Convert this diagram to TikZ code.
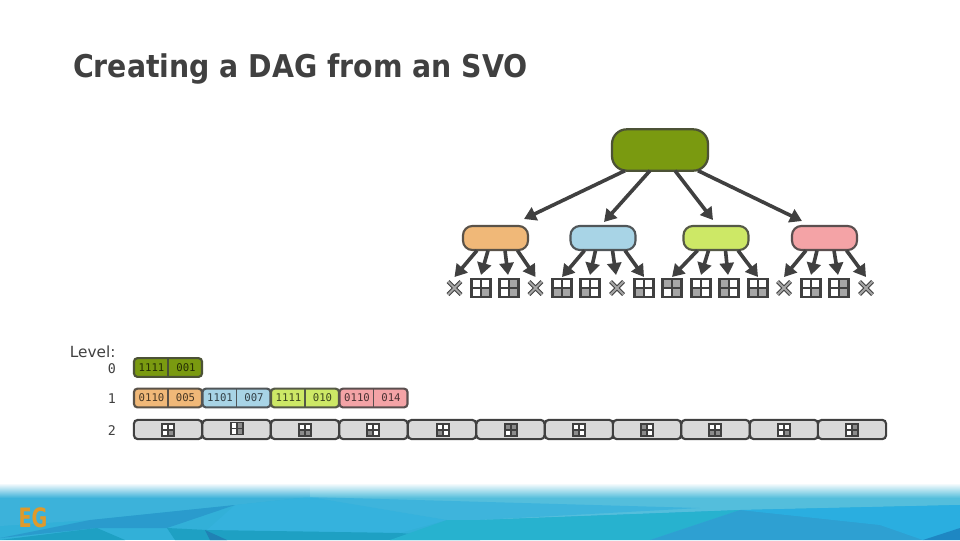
\documentclass[tikz,border=0pt]{standalone}
\usepackage{graphicx}
\usepackage{fontspec}
\setmainfont{DejaVu Sans}
\newfontfamily\titlefont[FakeStretch=0.905]{DejaVu Sans Bold}
\newfontfamily\cellfont{DejaVu Sans Mono}
\usetikzlibrary{arrows.meta,calc}
\definecolor{ink}{HTML}{404040}
\definecolor{rootc}{HTML}{7A9A10}
\definecolor{orangec}{HTML}{F0B878}
\definecolor{bluec}{HTML}{A8D4E6}
\definecolor{greenc}{HTML}{CDE866}
\definecolor{pinkc}{HTML}{F4A3A6}
\definecolor{cellg}{HTML}{A6A6A6}
\definecolor{iconG}{HTML}{8C8C8C}
\definecolor{barg}{HTML}{D9D9D9}
\definecolor{fa}{HTML}{32B0D8}
\definecolor{fb}{HTML}{3CB2DA}
\definecolor{fc}{HTML}{54BEDC}
\definecolor{fd}{HTML}{3EB4DC}
\definecolor{fe}{HTML}{35B2DD}
\definecolor{ff}{HTML}{2A9BCD}
\definecolor{fg}{HTML}{1EA0C3}
\definecolor{fh}{HTML}{2082B4}
\definecolor{fi}{HTML}{27B2CF}
\definecolor{fj}{HTML}{2EA0D2}
\definecolor{fk}{HTML}{2AAEE0}
\definecolor{fl}{HTML}{1E87C3}
\definecolor{logoc}{HTML}{DE9A2C}
\tikzset{
  x=0.75pt,y=-0.75pt,
  every node/.style={inner sep=0pt,outer sep=0pt},
  arr/.style={draw=ink,line width=2.7pt,-{Triangle[length=9pt,width=10.5pt]},shorten >=0pt},
  parent/.style={rounded corners=7pt,line width=1.6pt,minimum width=48.75pt,minimum height=18pt},
  rootbox/.style={rounded corners=11pt,line width=1.7pt,draw=ink!80!rootc,fill=rootc,minimum width=72pt,minimum height=31pt},
  gridcell/.style={minimum width=14.5pt,minimum height=13.5pt,draw=none},
  pairbox/.style={rounded corners=2.5pt,line width=1.6pt,minimum width=51pt,minimum height=14pt},
  barbox/.style={rounded corners=3pt,line width=1.6pt,draw=ink,fill=barg,minimum width=51.2pt,minimum height=14.5pt},
  celltxt/.style={font=\cellfont\fontsize{8}{9}\selectfont},
  lvl/.style={font=\cellfont\fontsize{10}{12}\selectfont,text=ink,anchor=base east},
}
\begin{document}
\begin{tikzpicture}
\useasboundingbox (0,0) rectangle (960,540);
% footer band
\fill[white] (0,0) rectangle (960,540);
\fill[fa] (0,484) rectangle (960,540);
\fill[fb] (0,484) -- (310,484) -- (310,497) -- (235,505) -- (90,520) -- (0,526) -- cycle;
\fill[fc] (310,484) -- (960,484) -- (960,505) -- (740,510) -- (480,520) -- (447,520) -- (310,497) -- cycle;
\fill[fd] (310,497) -- (700,508) -- (480,520) -- (447,520) -- cycle;
\fill[fe] (235,505) -- (207,530) -- (400,533) -- (447,520) -- (310,497) -- cycle;
\fill[ff] (0,538) -- (90,520) -- (235,505) -- (167,528) -- (97,528) -- cycle;
\fill[fg] (0,540) -- (97,528) -- (125,540) -- cycle;
\fill[fg] (167,528) -- (207,530) -- (400,533) -- (480,540) -- (175,540) -- cycle;
\fill[fh] (205,530) -- (227,540) -- (210,540) -- cycle;
\fill[fi] (447,520) -- (480,520) -- (740,510) -- (650,540) -- (390,540) -- cycle;
\fill[fj] (740,510) -- (880,510) -- (923,540) -- (650,540) -- cycle;
\fill[fk] (740,510) -- (960,505) -- (960,530) -- (923,540) -- (880,525) -- cycle;
\fill[fl] (923,540) -- (960,528) -- (960,540) -- cycle;
\foreach \i in {0,...,13} {
  \pgfmathsetmacro{\op}{1-(\i+1)/15}
  \fill[white,opacity=\op] (0,{484+\i}) rectangle (960,{485+\i});
}
\node[font=\bfseries\fontsize{20}{22}\selectfont,text=logoc,anchor=center] (logo) at (33,518) {\scalebox{0.72}[1]{EG}};
% title
\node[anchor=base west,font=\titlefont\fontsize{23.5}{26}\selectfont,text=ink] (title) at (73,77) {Creating a DAG from an SVO};
% tree
\node[rootbox] (root) at (660,150) {};
\node[parent,draw=ink!85!orangec,fill=orangec] (na) at (495.5,238) {};
\node[parent,draw=ink!85!bluec,fill=bluec] (nb) at (603,238) {};
\node[parent,draw=ink!85!greenc,fill=greenc] (nc) at (716,238) {};
\node[parent,draw=ink!85!pinkc,fill=pinkc] (nd) at (824.5,238) {};
% leaf cells
\foreach \n/\x/\a/\b/\c/\d in {
  l2/481/white/white/white/cellg, l3/509/white/cellg/white/cellg,
  l5/562/white/white/cellg/cellg, l6/590/white/white/cellg/white,
  l8/644/white/white/cellg/white, l9/672/cellg/cellg/white/cellg,
  l10/701/white/white/cellg/white, l11/729/cellg/white/cellg/white,
  l12/758/white/white/cellg/cellg, l14/811/white/white/white/cellg,
  l15/839/white/cellg/white/cellg} {
  \node[gridcell] (\n) at (\x,288) {};
  \fill[\a] (\n.north west) rectangle (\n.center);
  \fill[\b] (\n.north east) rectangle (\n.center);
  \fill[\c] (\n.south west) rectangle (\n.center);
  \fill[\d] (\n.south east) rectangle (\n.center);
  \draw[ink,line width=1.9pt] (\n.north west) rectangle (\n.south east);
  \draw[ink,line width=1.3pt] (\n.north) -- (\n.south) (\n.west) -- (\n.east);
}
\foreach \n/\x in {l1/454.5,l4/535.5,l7/617,l13/784,l16/866} {
  \node[gridcell] (\n) at (\x,288) {};
  \draw[ink,line width=3pt] ($(\n)+(-6.5,-6.5)$) -- ($(\n)+(6.5,6.5)$) ($(\n)+(-6.5,6.5)$) -- ($(\n)+(6.5,-6.5)$);
  \draw[cellg,line width=1.5pt] ($(\n)+(-6.5,-6.5)$) -- ($(\n)+(6.5,6.5)$) ($(\n)+(-6.5,6.5)$) -- ($(\n)+(6.5,-6.5)$);
}
% root arrows
\draw[arr] ($(root.south)+(-35,0)$) -- ($(na.north)+(28.5,-7)$);
\draw[arr] ($(root.south)+(-10,0)$) -- ($(nb.north)+(1,-4)$);
\draw[arr] ($(root.south)+(15,0)$) -- ($(nc.north)+(-3,-6)$);
\draw[arr] ($(root.south)+(38,0)$) -- ($(nd.north)+(-22.5,-5)$);
% child arrows
\foreach \p/\t/\u/\v/\w in {
  na/l1/l2/l3/l4, nb/l5/l6/l7/l8, nc/l9/l10/l11/l12, nd/l13/l14/l15/l16} {
  \draw[arr] ($(\p.south)+(-18.5,0.5)$) -- ($(\t.north)+(0,-2)$);
  \draw[arr] ($(\p.south)+(-7.5,0.5)$) -- ($(\u.north)+(0,-4)$);
  \draw[arr] ($(\p.south)+(9.5,0.5)$) -- ($(\v.north)+(-1,-4)$);
  \draw[arr] ($(\p.south)+(22,0.5)$) -- ($(\w.north)+(0,-2)$);
}
% level labels
\node[anchor=base east,font=\fontsize{11.5}{13}\selectfont,text=ink] (lv) at (115.5,357) {Level:};
\node[lvl] (l0) at (116,373.5) {0};
\node[lvl] (l1t) at (116,403.5) {1};
\node[lvl] (l2t) at (116,435) {2};
% level 0
\node[pairbox,draw=ink!80!rootc,fill=rootc] (p0) at (168,367.5) {};
\draw[ink!80!rootc,line width=1.4pt] (p0.north) -- (p0.south);
\node[celltxt,text=rootc!30!black] (t1) at (151.5,367.5) {1111};
\node[celltxt,text=rootc!30!black] (t2) at (186,367.5) {001};
% level 1
\foreach \n/\x/\col/\ta/\tb in {
  p1/168/orangec/0110/005, p2/236.5/bluec/1101/007,
  p3/305/greenc/1111/010, p4/373.5/pinkc/0110/014} {
  \node[pairbox,draw=ink!85!\col,fill=\col] (\n) at (\x,398) {};
  \draw[ink!85!\col,line width=1.4pt] (\n.north) -- (\n.south);
  \node[celltxt,text=\col!30!black] (\n a) at ($(\n)+(-16.5,0)$) {\ta};
  \node[celltxt,text=\col!30!black] (\n b) at ($(\n)+(17.5,0)$) {\tb};
}
% level 2
\foreach \n/\x/\ix/\iy/\a/\b/\c/\d in {
  b1/168/168/430/white/white/white/iconG,
  b2/236.5/237/428.5/white/iconG/white/iconG,
  b3/305/305/430/white/white/iconG/iconG,
  b4/373.5/373/430/white/white/iconG/white,
  b5/442/443/430/white/white/iconG/white,
  b6/510.5/511/430/iconG/iconG/white/iconG,
  b7/579/579/430/white/white/iconG/white,
  b8/647/647/430/iconG/white/iconG/white,
  b9/715.5/715/430/white/white/iconG/iconG,
  b10/784/784/430/white/white/white/iconG,
  b11/852/852/430/white/iconG/white/iconG} {
  \node[barbox] (\n) at (\x,429.5) {};
  \node[minimum width=9pt,minimum height=9pt] (\n i) at (\ix,\iy) {};
  \fill[\a] (\n i.north west) rectangle (\n i.center);
  \fill[\b] (\n i.north east) rectangle (\n i.center);
  \fill[\c] (\n i.south west) rectangle (\n i.center);
  \fill[\d] (\n i.south east) rectangle (\n i.center);
  \draw[ink,line width=1.4pt] (\n i.north west) rectangle (\n i.south east);
  \draw[ink,line width=0.9pt] (\n i.north) -- (\n i.south) (\n i.west) -- (\n i.east);
}
\end{tikzpicture}
\end{document}
